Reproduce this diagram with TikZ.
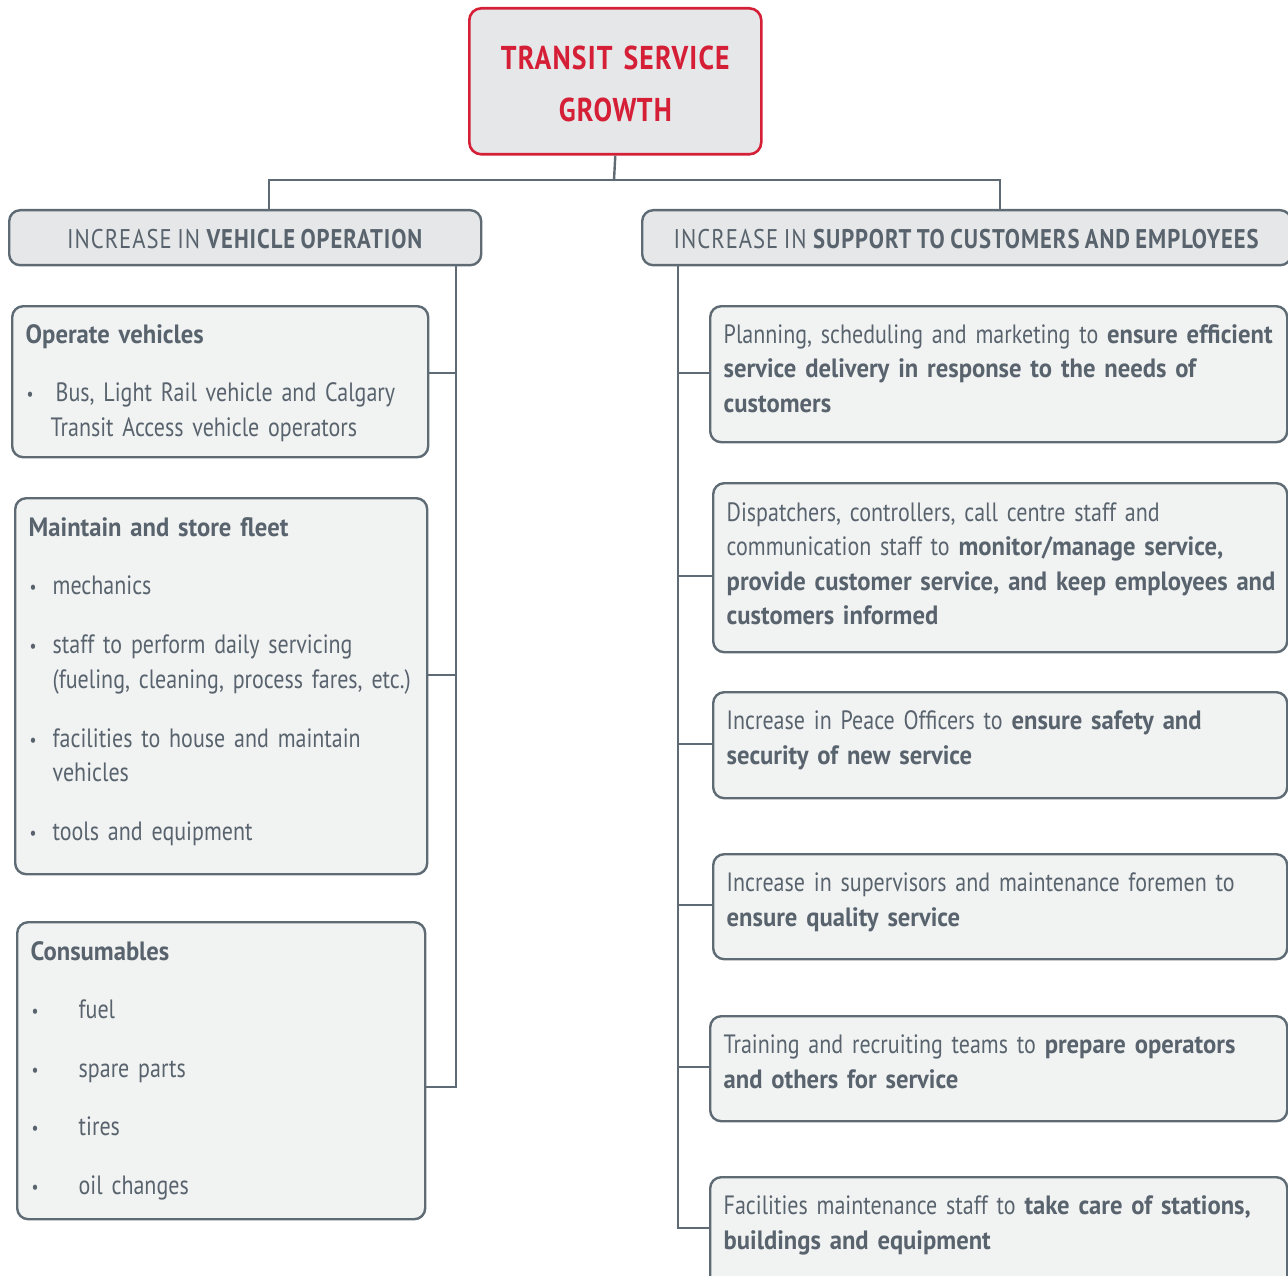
\documentclass[tikz,border=0pt]{standalone}
\usepackage{fontspec}
\setmainfont{PT Sans}[FakeStretch=0.83,WordSpace=0.6,BoldFeatures={FakeStretch=0.93}]
\newfontfamily\fontmaiusc{PT Sans}[FakeStretch=0.84,WordSpace=0.8,LetterSpace=3.5]
\definecolor{rosso}{HTML}{D51F36}
\definecolor{grigiolinea}{HTML}{5F6B74}
\definecolor{grigiotesto}{HTML}{58636D}
\definecolor{grigiotesta}{HTML}{E6E7E8}
\definecolor{grigiobox}{HTML}{F1F2F2}
\newcommand{\pallino}[1]{\makebox[#1][l]{\hspace{1pt}\raisebox{1pt}{\scalebox{0.7}{\textbullet}}}}
\newcommand{\righe}[1]{\begin{tabular}[t]{@{}l@{}}#1\end{tabular}}
\begin{document}
\begin{tikzpicture}[
    x=1pt,y=-1pt,
    collegamento/.style={draw=grigiolinea,line width=2.4pt},
    titolo/.style={draw=rosso,fill=grigiotesta,line width=2.6pt,rounded corners=12pt,
      anchor=north west,inner sep=0pt,align=center,text=rosso,
      font=\fontmaiusc\fontsize{33}{52}\selectfont\bfseries},
    testata/.style={draw=grigiolinea,fill=grigiotesta,line width=2.4pt,rounded corners=11pt,
      anchor=north west,inner sep=0pt,text=grigiotesto,
      text height=38pt,text depth=17pt,font=\fontmaiusc\fontsize{27}{34.5}\selectfont},
    voce/.style={draw=grigiolinea,fill=grigiobox,line width=2.4pt,rounded corners=11pt,
      anchor=north west,inner xsep=13.5pt,inner ysep=0pt,text=grigiotesto,
      font=\fontsize{26.5}{34.5}\selectfont}]

  \useasboundingbox (0,0) rectangle (1288,1276);
  \clip (0,0) rectangle (1288,1276);

  % ---- vertice ---------------------------------------------------------
  \node[titolo,text width=292pt,text height=61pt,text depth=85pt] (crescita) at (468,7)
    {TRANSIT SERVICE\\GROWTH};

  % ---- testate dei due rami --------------------------------------------
  \node[testata,minimum width=472pt] (veicoli)  at (8,209)
    {INCREASE IN \textbf{VEHICLE OPERATION}};
  \node[testata,minimum width=649pt] (supporto) at (641,209)
    {INCREASE IN \textbf{SUPPORT TO CUSTOMERS AND EMPLOYEES}};

  % ---- ramo sinistro ---------------------------------------------------
  \node[voce,text width=389pt,text height=37pt,text depth=114pt] (operare) at (11,305)
    {\righe{\textbf{Operate vehicles}\\[24pt]
     \pallino{30pt}Bus, Light Rail vehicle and Calgary\\
     \hspace*{25pt}Transit Access vehicle operators}};

  \node[voce,text width=385pt,text height=38pt,text depth=338pt] (flotta) at (14,497)
    {\righe{\textbf{Maintain and store fleet}\\[24pt]
     \pallino{24pt}mechanics\\[24.5pt]
     \pallino{24pt}staff to perform daily servicing\\
     \hspace*{24pt}(fueling, cleaning, process fares, etc.)\\[24.5pt]
     \pallino{24pt}facilities to house and maintain\\
     \hspace*{24pt}vehicles\\[24.5pt]
     \pallino{24pt}tools and equipment}};

  \node[voce,text width=381pt,text height=38pt,text depth=259pt] (consumi) at (16,921)
    {\righe{\textbf{Consumables}\\[24pt]
     \pallino{48pt}fuel\\[24pt]
     \pallino{48pt}spare parts\\[24pt]
     \pallino{48pt}tires\\[24pt]
     \pallino{48pt}oil changes}};

  % ---- ramo destro -----------------------------------------------------
  \node[voce,text width=550pt,text height=37pt,text depth=99pt] (pianificare) at (709,305)
    {\righe{Planning, scheduling and marketing to \textbf{ensure efficient}\\
     \textbf{service delivery in response to the needs of}\\
     \textbf{customers}}};

  \node[voce,text width=547pt,text height=38pt,text depth=131pt] (coordinare) at (712,482)
    {\righe{Dispatchers, controllers, call centre staff and\\
     communication staff to \textbf{monitor/manage service,}\\
     \textbf{provide customer service, and keep employees and}\\
     \textbf{customers informed}}};

  \node[voce,text width=547pt,text height=37.5pt,text depth=68.5pt] (sicurezza) at (712,691)
    {\righe{Increase in Peace Officers to \textbf{ensure safety and}\\
     \textbf{security of new service}}};

  \node[voce,text width=547pt,text height=37.5pt,text depth=67.5pt] (supervisione) at (712,853)
    {\righe{Increase in supervisors and maintenance foremen to\\
     \textbf{ensure quality service}}};

  \node[voce,text width=550pt,text height=37.5pt,text depth=67.5pt] (formazione) at (709,1015)
    {\righe{Training and recruiting teams to \textbf{prepare operators}\\
     \textbf{and others for service}}};

  \node[voce,text width=550pt,text height=37.5pt,text depth=110pt] (impianti) at (709,1176)
    {\righe{Facilities maintenance staff to \textbf{take care of stations,}\\
     \textbf{buildings and equipment}}};

  % ---- collegamenti ----------------------------------------------------
  \coordinate (bivio) at (614,180);
  \coordinate (gs)    at (269,180);
  \coordinate (gd)    at (1000,180);
  \draw[collegamento] (crescita.south) -- (bivio);
  \draw[collegamento] (gs |- veicoli.north) -- (gs) -- (gd) -- (gd |- supporto.north);

  % dorsale sinistra
  \coordinate (sx) at (456,1087);
  \draw[collegamento] (sx |- veicoli.south) -- (sx) -- (sx -| consumi.east);
  \foreach \y/\n in {373/operare,675/flotta} {
    \coordinate (s\n) at (456,\y);
    \draw[collegamento] (s\n) -- (s\n -| \n.east);
  }

  % dorsale destra
  \coordinate (dx) at (678,1228);
  \draw[collegamento] (dx |- supporto.south) -- (dx) -- (dx -| impianti.west);
  \foreach \y/\n in {373/pianificare,576/coordinare,744/sicurezza,905/supervisione,1067/formazione} {
    \coordinate (d\n) at (678,\y);
    \draw[collegamento] (d\n) -- (d\n -| \n.west);
  }

\end{tikzpicture}
\end{document}
